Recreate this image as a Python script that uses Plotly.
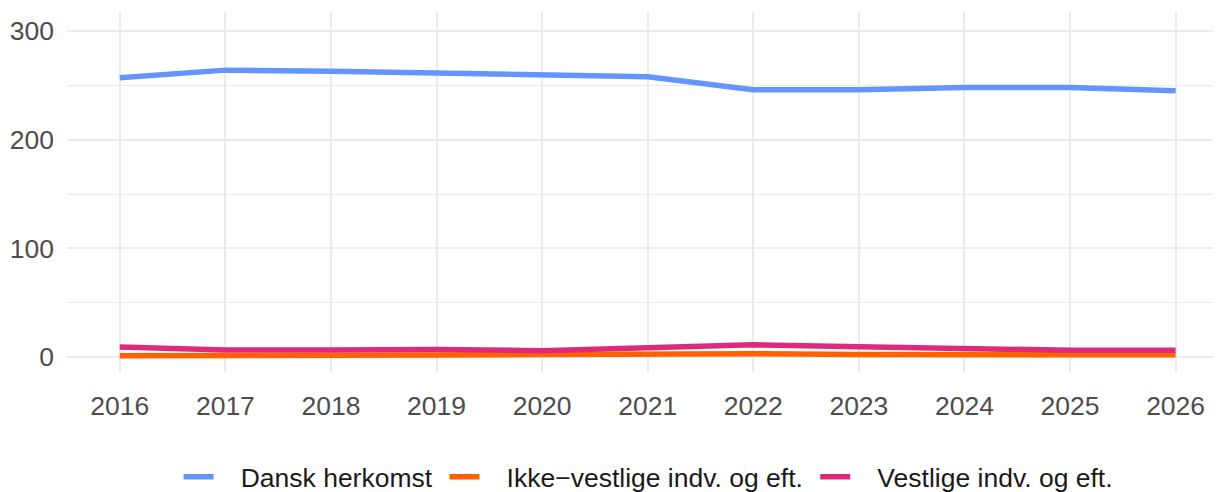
import plotly.graph_objects as go

years = list(range(2016, 2027))
dansk = [257, 264, 263, 261, 260, 258, 246, 246, 248, 248, 245]
ikke_vestlige = [1.2, 1.0, 1.5, 1.8, 2.2, 3.0, 3.0, 2.2, 2.7, 2.0, 2.0]
vestlige = [9.2, 6.4, 6.4, 6.8, 5.8, 8.0, 11.3, 9.5, 8.0, 6.2, 6.2]

series_names = ["Dansk herkomst", "Ikke\u2212vestlige indv. og eft.", "Vestlige indv. og eft."]
series_values = [dansk, ikke_vestlige, vestlige]
series_colors = ["#6495FF", "#FF6100", "#DE2A7D"]

pad = "\u00a0\u00a0\u00a0"
fig = go.Figure()
for name, vals, col in zip(series_names, series_values, series_colors):
    fig.add_trace(go.Scatter(x=years, y=vals, mode="lines", name=pad + name + "\u00a0",
                             line=dict(color=col, width=5.5)))

grid = "#EBEBEB"
fs = 26.5
fig.update_layout(
    width=1213, height=484,
    margin=dict(l=59, r=0, t=4, b=120),
    paper_bgcolor="white", plot_bgcolor="white",
    font=dict(family="Liberation Sans, Arial, sans-serif", size=fs, color="#4D4D4D"),
    xaxis=dict(range=[2015.5, 2026.43], tickmode="array", tickvals=years,
               ticktext=[str(y) for y in years], showgrid=True, gridcolor=grid,
               gridwidth=2, zeroline=False, showline=False, ticks="",
               automargin=False, ticklabelstandoff=15,
               tickfont=dict(size=fs, color="#4D4D4D")),
    yaxis=dict(range=[-13.8, 317.5], tickmode="array", tickvals=[0, 100, 200, 300],
               showgrid=True, gridcolor=grid, gridwidth=2, zeroline=False,
               showline=False, ticks="", ticklabelstandoff=12, automargin=False,
               tickfont=dict(size=fs, color="#4D4D4D"),
               minor=dict(tickmode="array", tickvals=[50, 150, 250], showgrid=True,
                          gridcolor=grid, gridwidth=1)),
    showlegend=True,
    legend=dict(orientation="h", x=0.507, xanchor="center",
                yref="container", y=0.031, yanchor="middle",
                font=dict(size=fs, color="#1A1A1A"), itemwidth=30,
                bgcolor="rgba(0,0,0,0)"),
)

fig.write_html("out.html")
